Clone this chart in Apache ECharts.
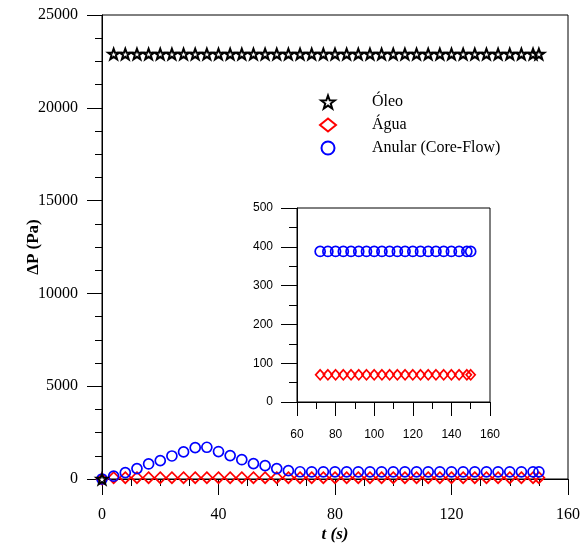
<!DOCTYPE html>
<html>
<head>
<meta charset="utf-8">
<script src="https://cdn.jsdelivr.net/npm/echarts@6/dist/echarts.min.js"></script>
<style>
  html, body { margin: 0; padding: 0; background: #fff; }
  #chart { width: 580px; height: 546px; }
</style>
</head>
<body>
<div id="chart"></div>
<script>
// Time samples (s)
const time = [0, 4, 8, 12, 16, 20, 24, 28, 32, 36, 40, 44, 48, 52, 56, 60, 64, 68,
  72, 76, 80, 84, 88, 92, 96, 100, 104, 108, 112, 116, 120, 124, 128, 132, 136, 140, 144, 148, 150];

// Pressure drop (Pa) for each flow case
const oleo = [0, 22900, 22900, 22900, 22900, 22900, 22900, 22900, 22900, 22900, 22900, 22900, 22900,
  22900, 22900, 22900, 22900, 22900, 22900, 22900, 22900, 22900, 22900, 22900, 22900, 22900, 22900,
  22900, 22900, 22900, 22900, 22900, 22900, 22900, 22900, 22900, 22900, 22900, 22900];
const agua = [0, 70, 70, 70, 70, 70, 70, 70, 70, 70, 70, 70, 70, 70, 70, 70, 70, 70,
  70, 70, 70, 70, 70, 70, 70, 70, 70, 70, 70, 70, 70, 70, 70, 70, 70, 70, 70, 70, 70];
const anular = [0, 150, 340, 560, 810, 990, 1240, 1460, 1690, 1710, 1480, 1260, 1040, 830, 720, 560, 450, 390,
  388, 388, 388, 388, 388, 388, 388, 388, 388, 388, 388, 388, 388, 388, 388, 388, 388, 388, 388, 388, 388];

// Axis ticks
const mainXTicks = [0, 40, 80, 120, 160];
const mainYTicks = [0, 5000, 10000, 15000, 20000, 25000];
const insetXTicks = [60, 80, 100, 120, 140, 160];
const insetYTicks = [0, 100, 200, 300, 400, 500];

// Zoomed window shown in the inset
const insetStart = 72;

const names = ['Óleo', 'Água', 'Anular (Core-Flow)'];

const pairs = (ys) => time.map((t, i) => [t, ys[i]]);
const insetPairs = (ys) => time.map((t, i) => [t, ys[i]]).filter(p => p[0] >= insetStart);

const starPath = 'path://M50 0 L61.76 33.82 L97.55 34.55 L69.02 56.18 L79.39 90.45 L50 70 L20.61 90.45 L30.98 56.18 L2.45 34.55 L38.24 33.82 Z';

const serif = 'Liberation Serif';
const sans = 'Liberation Sans';
const ink = '#000';

function axisBase(font, size, ticks, minorSplit, tickLen, minorLen, margin) {
  return {
    min: ticks[0],
    max: ticks[ticks.length - 1],
    interval: ticks[1] - ticks[0],
    nameMoveOverlap: false,
    axisLine: { show: true, onZero: false, lineStyle: { color: ink, width: 1 } },
    axisTick: { show: true, inside: false, length: tickLen, lineStyle: { color: ink, width: 1 } },
    minorTick: { show: true, splitNumber: minorSplit, length: minorLen, lineStyle: { color: ink, width: 1 } },
    splitLine: { show: false },
    minorSplitLine: { show: false },
    axisLabel: {
      fontFamily: font, fontSize: size, color: ink, margin: margin,
      showMinLabel: true, showMaxLabel: true, hideOverlap: false,
      formatter: (v) => String(v)
    }
  };
}

const chart = echarts.init(document.getElementById('chart'), null, { renderer: 'canvas' });

const option = {
  animation: false,
  backgroundColor: '#fff',
  grid: [
    { left: 102, top: 15, right: 12, bottom: 67, containLabel: false, outerBoundsMode: 'none',
      show: true, borderColor: ink, borderWidth: 1, backgroundColor: 'transparent' },
    { left: 297, top: 208, right: 90, bottom: 144, containLabel: false, outerBoundsMode: 'none',
      show: true, borderColor: ink, borderWidth: 1, backgroundColor: '#fff' }
  ],
  xAxis: [
    Object.assign(axisBase(serif, 16, mainXTicks, 4, 16, 7, 28), {
      type: 'value', gridIndex: 0,
      name: 't (s)', nameLocation: 'middle', nameGap: 47,
      nameTextStyle: { fontFamily: serif, fontSize: 17, fontWeight: 'bold', fontStyle: 'italic', color: ink }
    }),
    Object.assign(axisBase(sans, 12, insetXTicks, 2, 14, 7, 27), {
      type: 'value', gridIndex: 1
    })
  ],
  yAxis: [
    Object.assign(axisBase(serif, 16, mainYTicks, 4, 15, 7, 24), {
      type: 'value', gridIndex: 0,
      name: 'ΔP (Pa)', nameLocation: 'middle', nameGap: 60,
      nameTextStyle: { fontFamily: serif, fontSize: 17, fontWeight: 'bold', color: ink }
    }),
    Object.assign(axisBase(sans, 12, insetYTicks, 2, 16, 8, 24), {
      type: 'value', gridIndex: 1
    })
  ],
  legend: {
    data: names,
    orient: 'vertical',
    left: 314,
    top: 89,
    itemGap: 7,
    itemWidth: 16,
    itemHeight: 13,
    textStyle: { fontFamily: serif, fontSize: 16, color: ink, padding: [0, 0, 0, 31] }
  },
  series: [
    {
      name: names[0], type: 'scatter', xAxisIndex: 0, yAxisIndex: 0,
      data: pairs(oleo), symbol: starPath, symbolSize: 11, symbolKeepAspect: true,
      itemStyle: { color: '#fff', borderColor: ink, borderWidth: 2, opacity: 1 }, z: 3
    },
    {
      name: names[1], type: 'scatter', xAxisIndex: 0, yAxisIndex: 0,
      data: pairs(agua), symbol: 'diamond', symbolSize: [11, 11],
      itemStyle: { color: 'transparent', borderColor: '#ff0000', borderWidth: 1.7, opacity: 1 }, z: 2
    },
    {
      name: names[2], type: 'scatter', xAxisIndex: 0, yAxisIndex: 0,
      data: pairs(anular), symbol: 'circle', symbolSize: 10,
      itemStyle: { color: 'transparent', borderColor: '#0000ff', borderWidth: 1.7, opacity: 1 }, z: 2
    },
    {
      name: names[1], type: 'scatter', xAxisIndex: 1, yAxisIndex: 1,
      data: insetPairs(agua), symbol: 'diamond', symbolSize: [9, 10],
      itemStyle: { color: 'transparent', borderColor: '#ff0000', borderWidth: 1.7, opacity: 1 }, z: 5
    },
    {
      name: names[2], type: 'scatter', xAxisIndex: 1, yAxisIndex: 1,
      data: insetPairs(anular), symbol: 'circle', symbolSize: 10,
      itemStyle: { color: 'transparent', borderColor: '#0000ff', borderWidth: 1.7, opacity: 1 }, z: 5
    }
  ]
};

chart.setOption(option);
</script>
</body>
</html>
